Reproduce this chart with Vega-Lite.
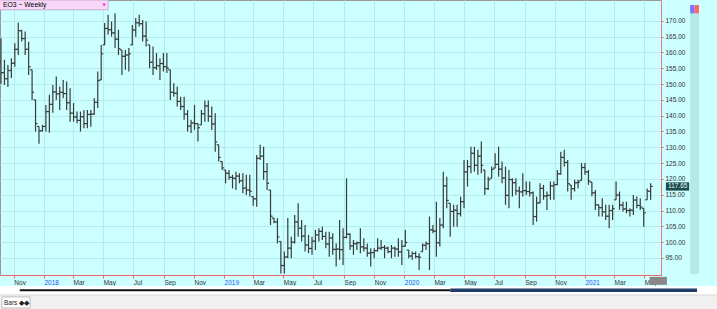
{
"$schema": "https://vega.github.io/schema/vega-lite/v6.json",
"width": 661, "height": 275,
"autosize": {"type": "none"},
"padding": {"left": 0, "top": 0, "right": 56, "bottom": 34},
"background": "#ccffff",
"config": {"view": {"fill": "#ccffff", "stroke": "#999999"}, "font": "Liberation Sans"},
"datasets": {"bars": [
{"d":"2017-10-06","o":157,"h":164.5,"l":150.0,"c":153.6},
{"d":"2017-10-13","o":153.6,"h":157.7,"l":149.7,"c":151.7},
{"d":"2017-10-20","o":151.7,"h":156.0,"l":149.1,"c":154.3},
{"d":"2017-10-27","o":154.3,"h":158.2,"l":151.9,"c":156.6},
{"d":"2017-11-03","o":156.6,"h":162.9,"l":155.5,"c":161.0},
{"d":"2017-11-10","o":161.0,"h":169.5,"l":159.2,"c":166.9},
{"d":"2017-11-17","o":166.9,"h":167.2,"l":163.5,"c":164.4},
{"d":"2017-11-24","o":164.4,"h":166.6,"l":159.2,"c":161.0},
{"d":"2017-12-01","o":161.0,"h":163.4,"l":152.9,"c":155.5},
{"d":"2017-12-08","o":154.5,"h":154.5,"l":145.0,"c":147.4},
{"d":"2017-12-15","o":145.0,"h":145.0,"l":135.0,"c":137.5},
{"d":"2017-12-22","o":136.6,"h":136.6,"l":131.1,"c":135.2},
{"d":"2017-12-29","o":135.2,"h":137.1,"l":135.0,"c":136.6},
{"d":"2018-01-05","o":136.6,"h":143.4,"l":135.0,"c":141.3},
{"d":"2018-01-12","o":141.3,"h":146.6,"l":134.6,"c":143.6},
{"d":"2018-01-19","o":143.6,"h":149.7,"l":140.9,"c":147.5},
{"d":"2018-01-26","o":147.5,"h":152.4,"l":145.0,"c":146.9},
{"d":"2018-02-02","o":146.9,"h":149.2,"l":141.8,"c":147.4},
{"d":"2018-02-09","o":147.4,"h":151.3,"l":145.5,"c":147.0},
{"d":"2018-02-16","o":147.0,"h":150.8,"l":141.8,"c":144.1},
{"d":"2018-02-23","o":144.1,"h":148.7,"l":138.1,"c":140.8},
{"d":"2018-03-02","o":140.8,"h":144.0,"l":138.1,"c":139.6},
{"d":"2018-03-09","o":139.6,"h":141.3,"l":137.6,"c":138.5},
{"d":"2018-03-16","o":138.5,"h":141.3,"l":135.0,"c":139.7},
{"d":"2018-03-23","o":139.7,"h":141.8,"l":136.0,"c":137.5},
{"d":"2018-03-30","o":137.5,"h":141.8,"l":136.0,"c":140.4},
{"d":"2018-04-06","o":140.4,"h":141.8,"l":136.5,"c":140.5},
{"d":"2018-04-13","o":140.5,"h":145.5,"l":140.3,"c":144.2},
{"d":"2018-04-20","o":144.2,"h":154.0,"l":142.4,"c":151.1},
{"d":"2018-04-27","o":151.3,"h":162.4,"l":151.3,"c":159.6},
{"d":"2018-05-04","o":162.4,"h":169.3,"l":162.4,"c":167.6},
{"d":"2018-05-11","o":167.6,"h":171.9,"l":165.6,"c":167.2},
{"d":"2018-05-18","o":167.2,"h":169.8,"l":165.0,"c":166.2},
{"d":"2018-05-25","o":166.2,"h":172.4,"l":161.4,"c":164.2},
{"d":"2018-06-01","o":164.2,"h":167.2,"l":159.2,"c":161.2},
{"d":"2018-06-08","o":160.8,"h":160.8,"l":152.9,"c":158.8},
{"d":"2018-06-15","o":158.8,"h":160.8,"l":154.5,"c":159.2},
{"d":"2018-06-22","o":159.2,"h":161.4,"l":154.0,"c":159.6},
{"d":"2018-06-29","o":162.4,"h":168.7,"l":162.4,"c":167.1},
{"d":"2018-07-06","o":167.1,"h":170.9,"l":165.0,"c":169.4},
{"d":"2018-07-13","o":169.4,"h":171.9,"l":168.2,"c":169.1},
{"d":"2018-07-20","o":169.1,"h":170.3,"l":163.5,"c":165.2},
{"d":"2018-07-27","o":165.2,"h":169.8,"l":161.9,"c":163.9},
{"d":"2018-08-03","o":162.4,"h":162.4,"l":155.0,"c":156.9},
{"d":"2018-08-10","o":156.9,"h":161.9,"l":152.9,"c":155.2},
{"d":"2018-08-17","o":155.2,"h":159.8,"l":154.5,"c":155.8},
{"d":"2018-08-24","o":155.8,"h":158.2,"l":151.3,"c":156.5},
{"d":"2018-08-31","o":156.5,"h":159.8,"l":154.0,"c":155.5},
{"d":"2018-09-07","o":155.5,"h":159.8,"l":153.5,"c":155.1},
{"d":"2018-09-14","o":154.5,"h":154.5,"l":145.0,"c":147.4},
{"d":"2018-09-21","o":147.4,"h":150.3,"l":146.0,"c":147.1},
{"d":"2018-09-28","o":147.1,"h":149.2,"l":142.9,"c":144.5},
{"d":"2018-10-05","o":144.5,"h":146.0,"l":141.8,"c":142.9},
{"d":"2018-10-12","o":142.9,"h":146.0,"l":138.7,"c":140.5},
{"d":"2018-10-19","o":140.5,"h":141.8,"l":135.0,"c":136.7},
{"d":"2018-10-26","o":136.7,"h":138.7,"l":134.5,"c":137.7},
{"d":"2018-11-02","o":137.7,"h":143.4,"l":135.5,"c":137.5},
{"d":"2018-11-09","o":137.5,"h":137.6,"l":131.8,"c":136.2},
{"d":"2018-11-16","o":137.1,"h":141.8,"l":137.1,"c":140.6},
{"d":"2018-11-23","o":140.6,"h":144.8,"l":138.1,"c":143.1},
{"d":"2018-11-30","o":143.1,"h":144.8,"l":138.1,"c":139.8},
{"d":"2018-12-07","o":139.8,"h":142.9,"l":135.5,"c":137.4},
{"d":"2018-12-14","o":137.4,"h":140.8,"l":128.6,"c":131.7},
{"d":"2018-12-21","o":130.8,"h":130.8,"l":125.5,"c":126.8},
{"d":"2018-12-28","o":125.5,"h":125.5,"l":122.8,"c":123.5},
{"d":"2019-01-04","o":122.8,"h":122.8,"l":118.6,"c":121.8},
{"d":"2019-01-11","o":121.8,"h":122.8,"l":119.7,"c":120.5},
{"d":"2019-01-18","o":120.5,"h":121.3,"l":117.0,"c":120.2},
{"d":"2019-01-25","o":120.2,"h":122.3,"l":116.5,"c":120.9},
{"d":"2019-02-01","o":120.9,"h":121.8,"l":118.6,"c":119.4},
{"d":"2019-02-08","o":119.4,"h":121.8,"l":115.5,"c":117.1},
{"d":"2019-02-15","o":117.1,"h":121.3,"l":114.9,"c":116.5},
{"d":"2019-02-22","o":116.5,"h":121.3,"l":114.4,"c":116.1},
{"d":"2019-03-01","o":114.4,"h":114.4,"l":111.5,"c":113.7},
{"d":"2019-03-08","o":113.7,"h":127.6,"l":111.2,"c":126.5},
{"d":"2019-03-15","o":126.5,"h":130.8,"l":126.0,"c":127.2},
{"d":"2019-03-22","o":127.2,"h":130.2,"l":119.7,"c":122.3},
{"d":"2019-03-29","o":122.3,"h":125.0,"l":116.5,"c":118.6},
{"d":"2019-04-05","o":116.5,"h":116.5,"l":105.4,"c":108.2},
{"d":"2019-04-12","o":107.6,"h":107.6,"l":106.0,"c":106.4},
{"d":"2019-04-19","o":106.4,"h":107.6,"l":99.6,"c":101.6},
{"d":"2019-04-26","o":100.2,"h":100.2,"l":90.1,"c":92.6},
{"d":"2019-05-03","o":92.6,"h":97.0,"l":90.1,"c":95.3},
{"d":"2019-05-10","o":95.3,"h":107.6,"l":94.9,"c":98.1},
{"d":"2019-05-17","o":98.1,"h":101.7,"l":94.9,"c":100.0},
{"d":"2019-05-24","o":100.0,"h":108.6,"l":99.6,"c":106.4},
{"d":"2019-05-31","o":106.4,"h":112.3,"l":101.7,"c":104.4},
{"d":"2019-06-07","o":104.4,"h":107.0,"l":100.2,"c":101.9},
{"d":"2019-06-14","o":101.9,"h":105.4,"l":97.0,"c":99.1},
{"d":"2019-06-21","o":99.1,"h":102.3,"l":96.5,"c":98.0},
{"d":"2019-06-28","o":98.0,"h":101.7,"l":96.0,"c":100.3},
{"d":"2019-07-05","o":100.3,"h":103.9,"l":97.5,"c":102.3},
{"d":"2019-07-12","o":102.3,"h":104.4,"l":100.2,"c":103.4},
{"d":"2019-07-19","o":103.4,"h":104.9,"l":100.7,"c":101.8},
{"d":"2019-07-26","o":101.8,"h":103.3,"l":98.1,"c":99.4},
{"d":"2019-08-02","o":99.4,"h":103.3,"l":95.4,"c":101.3},
{"d":"2019-08-09","o":101.3,"h":102.8,"l":96.0,"c":97.7},
{"d":"2019-08-16","o":97.7,"h":99.6,"l":92.3,"c":97.8},
{"d":"2019-08-23","o":97.8,"h":107.0,"l":94.4,"c":97.6},
{"d":"2019-08-30","o":97.6,"h":104.4,"l":92.8,"c":101.5},
{"d":"2019-09-06","o":101.5,"h":120.2,"l":101.2,"c":102.5},
{"d":"2019-09-13","o":102.5,"h":102.8,"l":97.5,"c":98.8},
{"d":"2019-09-20","o":98.8,"h":100.7,"l":96.0,"c":99.5},
{"d":"2019-09-27","o":99.5,"h":100.2,"l":97.5,"c":99.8},
{"d":"2019-10-04","o":99.8,"h":104.4,"l":96.5,"c":98.5},
{"d":"2019-10-11","o":98.5,"h":101.2,"l":97.0,"c":98.1},
{"d":"2019-10-18","o":98.1,"h":99.6,"l":95.4,"c":96.5},
{"d":"2019-10-25","o":96.5,"h":98.1,"l":92.3,"c":96.7},
{"d":"2019-11-01","o":96.7,"h":98.1,"l":94.9,"c":97.3},
{"d":"2019-11-08","o":97.3,"h":101.2,"l":97.0,"c":98.1},
{"d":"2019-11-15","o":98.1,"h":100.7,"l":97.5,"c":98.3},
{"d":"2019-11-22","o":98.3,"h":99.1,"l":94.9,"c":98.1},
{"d":"2019-11-29","o":98.1,"h":98.6,"l":96.5,"c":97.0},
{"d":"2019-12-06","o":97.0,"h":99.1,"l":94.9,"c":98.1},
{"d":"2019-12-13","o":98.1,"h":98.6,"l":95.4,"c":97.8},
{"d":"2019-12-20","o":97.8,"h":101.2,"l":95.4,"c":96.9},
{"d":"2019-12-27","o":96.9,"h":100.7,"l":92.8,"c":98.7},
{"d":"2020-01-03","o":98.7,"h":103.9,"l":98.6,"c":99.9},
{"d":"2020-01-10","o":97.5,"h":97.5,"l":94.9,"c":95.6},
{"d":"2020-01-17","o":95.6,"h":97.0,"l":94.4,"c":96.4},
{"d":"2020-01-24","o":96.4,"h":97.0,"l":94.9,"c":95.4},
{"d":"2020-01-31","o":95.4,"h":96.5,"l":91.2,"c":95.2},
{"d":"2020-02-07","o":97.0,"h":99.6,"l":97.0,"c":99.0},
{"d":"2020-02-14","o":99.0,"h":100.2,"l":97.5,"c":99.5},
{"d":"2020-02-21","o":99.5,"h":108.1,"l":91.2,"c":103.9},
{"d":"2020-02-28","o":103.9,"h":105.4,"l":102.8,"c":103.5},
{"d":"2020-03-06","o":103.5,"h":112.8,"l":95.4,"c":99.8},
{"d":"2020-03-13","o":99.8,"h":107.6,"l":98.6,"c":105.4},
{"d":"2020-03-20","o":105.4,"h":122.3,"l":104.4,"c":117.8},
{"d":"2020-03-27","o":117.8,"h":120.7,"l":110.7,"c":113.2},
{"d":"2020-04-03","o":112.3,"h":112.3,"l":101.7,"c":109.7},
{"d":"2020-04-10","o":109.7,"h":111.8,"l":104.9,"c":110.1},
{"d":"2020-04-17","o":110.1,"h":111.8,"l":104.9,"c":109.0},
{"d":"2020-04-24","o":109.0,"h":114.4,"l":108.1,"c":112.8},
{"d":"2020-05-01","o":112.8,"h":126.0,"l":110.7,"c":122.2},
{"d":"2020-05-08","o":122.2,"h":126.0,"l":117.6,"c":123.9},
{"d":"2020-05-15","o":123.9,"h":130.2,"l":121.8,"c":128.1},
{"d":"2020-05-22","o":128.1,"h":130.2,"l":122.3,"c":124.3},
{"d":"2020-05-29","o":124.3,"h":129.2,"l":121.3,"c":127.2},
{"d":"2020-06-05","o":127.2,"h":131.8,"l":121.8,"c":124.3},
{"d":"2020-06-12","o":122.8,"h":122.8,"l":114.9,"c":116.9},
{"d":"2020-06-19","o":116.9,"h":120.7,"l":116.5,"c":119.7},
{"d":"2020-06-26","o":120.2,"h":123.9,"l":120.2,"c":123.0},
{"d":"2020-07-03","o":123.4,"h":128.1,"l":123.4,"c":124.6},
{"d":"2020-07-10","o":124.6,"h":130.2,"l":120.7,"c":123.1},
{"d":"2020-07-17","o":123.1,"h":125.5,"l":118.6,"c":120.3},
{"d":"2020-07-24","o":120.3,"h":123.9,"l":111.8,"c":114.8},
{"d":"2020-07-31","o":114.8,"h":122.8,"l":110.7,"c":119.8},
{"d":"2020-08-07","o":119.8,"h":120.2,"l":114.4,"c":118.8},
{"d":"2020-08-14","o":118.8,"h":120.2,"l":114.9,"c":116.2},
{"d":"2020-08-21","o":116.2,"h":117.6,"l":110.7,"c":115.9},
{"d":"2020-08-28","o":115.9,"h":121.8,"l":114.4,"c":116.3},
{"d":"2020-09-04","o":116.3,"h":119.2,"l":114.9,"c":116.0},
{"d":"2020-09-11","o":116.0,"h":119.2,"l":114.4,"c":115.6},
{"d":"2020-09-18","o":115.6,"h":116.0,"l":105.4,"c":108.1},
{"d":"2020-09-25","o":108.1,"h":114.4,"l":106.5,"c":112.4},
{"d":"2020-10-02","o":112.4,"h":118.6,"l":112.3,"c":117.0},
{"d":"2020-10-09","o":117.0,"h":118.1,"l":113.4,"c":114.6},
{"d":"2020-10-16","o":114.6,"h":116.0,"l":110.2,"c":114.8},
{"d":"2020-10-23","o":114.8,"h":119.2,"l":113.4,"c":117.8},
{"d":"2020-10-30","o":117.8,"h":119.2,"l":113.4,"c":118.2},
{"d":"2020-11-06","o":118.2,"h":122.8,"l":118.0,"c":121.6},
{"d":"2020-11-13","o":121.6,"h":128.6,"l":121.3,"c":126.8},
{"d":"2020-11-20","o":126.8,"h":129.2,"l":123.9,"c":125.2},
{"d":"2020-11-27","o":125.2,"h":126.0,"l":116.0,"c":118.5},
{"d":"2020-12-04","o":118.1,"h":118.1,"l":113.4,"c":116.9},
{"d":"2020-12-11","o":116.9,"h":119.7,"l":116.0,"c":118.8},
{"d":"2020-12-18","o":118.8,"h":119.7,"l":117.0,"c":119.0},
{"d":"2020-12-25","o":119.5,"h":125.0,"l":119.5,"c":123.6},
{"d":"2021-01-01","o":123.6,"h":125.0,"l":121.3,"c":122.2},
{"d":"2021-01-08","o":122.2,"h":122.8,"l":118.1,"c":119.3},
{"d":"2021-01-15","o":119.0,"h":119.0,"l":114.5,"c":115.6},
{"d":"2021-01-22","o":115.6,"h":116.5,"l":110.2,"c":111.8},
{"d":"2021-01-29","o":111.8,"h":111.8,"l":108.1,"c":110.9},
{"d":"2021-02-05","o":110.9,"h":113.9,"l":108.1,"c":109.6},
{"d":"2021-02-12","o":109.6,"h":111.8,"l":107.0,"c":108.2},
{"d":"2021-02-19","o":108.2,"h":111.8,"l":104.4,"c":110.0},
{"d":"2021-02-26","o":110.0,"h":111.8,"l":107.0,"c":110.6},
{"d":"2021-03-05","o":113.4,"h":119.2,"l":113.4,"c":114.9},
{"d":"2021-03-12","o":114.9,"h":116.0,"l":110.2,"c":111.7},
{"d":"2021-03-19","o":111.7,"h":112.8,"l":109.7,"c":110.5},
{"d":"2021-03-26","o":110.5,"h":112.8,"l":109.1,"c":110.0},
{"d":"2021-04-02","o":110.0,"h":110.7,"l":108.1,"c":110.1},
{"d":"2021-04-09","o":110.1,"h":114.9,"l":108.6,"c":113.3},
{"d":"2021-04-16","o":113.3,"h":114.4,"l":110.7,"c":111.6},
{"d":"2021-04-23","o":111.6,"h":113.9,"l":110.2,"c":111.1},
{"d":"2021-04-30","o":110.7,"h":110.7,"l":104.9,"c":109.3},
{"d":"2021-05-07","o":113.4,"h":117.0,"l":113.4,"c":116.1},
{"d":"2021-05-14","o":116.1,"h":118.6,"l":113.4,"c":117.65}
]},
"data": {"name": "bars"},
"layer": [
{"mark": {"type": "rule", "color": "#3a3a3a", "strokeWidth": 1.2},
 "encoding": {
  "x": {"field": "d", "type": "temporal", "title": null,
   "scale": {"type": "utc", "domain": [{"year": 2017, "month": 10, "date": 4, "utc": true}, {"year": 2021, "month": 6, "date": 4, "utc": true}]},
   "axis": {"title": null, "orient": "bottom", "tickCount": {"interval": "month", "step": 2},
    "labelExpr": "utcmonth(datum.value) == 0 ? utcFormat(datum.value, '%Y') : utcFormat(datum.value, '%b')",
    "labelColor": {"condition": {"test": "utcmonth(datum.value) == 0", "value": "#3355ee"}, "value": "#333333"},
    "labelAlign": "left", "labelFontSize": 6.5, "labelFont": "Liberation Sans", "labelPadding": 1,
    "labelFlush": false, "labelOverlap": false,
    "domainColor": "#ee6666", "tickColor": "#ee6666", "tickSize": 3,
    "grid": true, "gridColor": "#b3ecec"}},
  "y": {"field": "l", "type": "quantitative", "title": null,
   "scale": {"domain": [89.6, 176.6], "nice": false, "zero": false},
   "axis": {"title": null, "orient": "right", "tickCount": 40, "values": [95,100,105,110,115,120,125,130,135,140,145,150,155,160,165,170],
    "format": ".2f", "labelFontSize": 6.5, "labelFont": "Liberation Sans", "labelColor": "#333333",
    "labelPadding": 2, "tickSize": 2, "tickColor": "#ee5555", "domainColor": "#ee7777",
    "grid": true, "gridColor": "#b3ecec", "labelFlush": false, "labelOverlap": false}},
  "y2": {"field": "h"}
 }},
{"mark": {"type": "tick", "orient": "horizontal", "size": 2, "thickness": 1.2, "xOffset": -1, "color": "#3a3a3a", "opacity": 1},
 "encoding": {"x": {"field": "d", "type": "temporal", "title": null}, "y": {"field": "o", "type": "quantitative", "title": null}}},
{"mark": {"type": "tick", "orient": "horizontal", "size": 2, "thickness": 1.2, "xOffset": 1, "color": "#3a3a3a", "opacity": 1},
 "encoding": {"x": {"field": "d", "type": "temporal", "title": null}, "y": {"field": "c", "type": "quantitative", "title": null}}},
{"data": {"values": [{}]}, "mark": {"type": "rect", "fill": "#f8d8f8", "stroke": "#c8a0c8", "strokeWidth": 0.8},
 "encoding": {"x": {"datum": {"year": 2017, "month": 10, "date": 3, "utc": true}, "type": "temporal", "title": null},
  "x2": {"datum": {"year": 2018, "month": 5, "date": 11, "utc": true}},
  "y": {"datum": 176.6, "type": "quantitative", "title": null}, "y2": {"datum": 173.5}}},
{"data": {"values": [{}]}, "mark": {"type": "text", "align": "left", "baseline": "middle", "fontSize": 6.8, "font": "Liberation Sans", "color": "#000000"},
 "encoding": {"x": {"datum": {"year": 2017, "month": 10, "date": 10, "utc": true}, "type": "temporal", "title": null},
  "y": {"datum": 175.05, "type": "quantitative", "title": null}, "text": {"value": "EO3 ~ Weekly"}}},
{"data": {"values": [{}]}, "mark": {"type": "point", "shape": "triangle-down", "size": 12, "filled": true, "fill": "#dd33dd", "opacity": 1},
 "encoding": {"x": {"datum": {"year": 2018, "month": 5, "date": 3, "utc": true}, "type": "temporal", "title": null},
  "y": {"datum": 175.05, "type": "quantitative", "title": null}}},
{"data": {"values": [{}]}, "mark": {"type": "rect", "fill": "#b6e8e8"},
 "encoding": {"x": {"datum": {"year": 2021, "month": 8, "date": 2, "utc": true}, "type": "temporal", "title": null},
  "x2": {"datum": {"year": 2021, "month": 8, "date": 20, "utc": true}},
  "y": {"datum": 172.5, "type": "quantitative", "title": null}, "y2": {"datum": 89.9}}},
{"data": {"values": [{}]}, "mark": {"type": "rect", "fill": "#7777ff"},
 "encoding": {"x": {"datum": {"year": 2021, "month": 8, "date": 2, "utc": true}, "type": "temporal", "title": null},
  "x2": {"datum": {"year": 2021, "month": 8, "date": 11, "utc": true}},
  "y": {"datum": 175.0, "type": "quantitative", "title": null}, "y2": {"datum": 172.4}}},
{"data": {"values": [{}]}, "mark": {"type": "rect", "fill": "#ff6666"},
 "encoding": {"x": {"datum": {"year": 2021, "month": 8, "date": 11, "utc": true}, "type": "temporal", "title": null},
  "x2": {"datum": {"year": 2021, "month": 8, "date": 20, "utc": true}},
  "y": {"datum": 175.0, "type": "quantitative", "title": null}, "y2": {"datum": 172.4}}},
{"data": {"values": [{}]}, "mark": {"type": "rect", "fill": "#1d4b4b"},
 "encoding": {"x": {"datum": {"year": 2021, "month": 6, "date": 14, "utc": true}, "type": "temporal", "title": null},
  "x2": {"datum": {"year": 2021, "month": 7, "date": 31, "utc": true}},
  "y": {"datum": 118.9, "type": "quantitative", "title": null}, "y2": {"datum": 116.3}}},
{"data": {"values": [{}]}, "mark": {"type": "text", "align": "center", "baseline": "middle", "fontSize": 6.5, "font": "Liberation Sans", "color": "#e6ffff"},
 "encoding": {"x": {"datum": {"year": 2021, "month": 7, "date": 8, "utc": true}, "type": "temporal", "title": null},
  "y": {"datum": 117.6, "type": "quantitative", "title": null}, "text": {"value": "117.65"}}},
{"data": {"values": [{}]}, "mark": {"type": "rect", "fill": "#888888"},
 "encoding": {"x": {"datum": {"year": 2021, "month": 5, "date": 12, "utc": true}, "type": "temporal", "title": null},
  "x2": {"datum": {"year": 2021, "month": 6, "date": 16, "utc": true}},
  "y": {"datum": 89.0, "type": "quantitative", "title": null}, "y2": {"datum": 86.5}}},
{"data": {"values": [{}]}, "mark": {"type": "rect", "fill": "#ffffff"},
 "encoding": {"x": {"datum": {"year": 2017, "month": 9, "date": 20, "utc": true}, "type": "temporal", "title": null},
  "x2": {"datum": {"year": 2021, "month": 10, "date": 5, "utc": true}},
  "y": {"datum": 86.14, "type": "quantitative", "title": null}, "y2": {"datum": 83.29}}},
{"data": {"values": [{}]}, "mark": {"type": "rect", "fill": "#f0f0f0", "stroke": "#d0d0d0", "strokeWidth": 0.8},
 "encoding": {"x": {"datum": {"year": 2017, "month": 9, "date": 20, "utc": true}, "type": "temporal", "title": null},
  "x2": {"datum": {"year": 2021, "month": 10, "date": 5, "utc": true}},
  "y": {"datum": 83.29, "type": "quantitative", "title": null}, "y2": {"datum": 78.3}}},
{"data": {"values": [{}]}, "mark": {"type": "rule", "color": "#111111", "strokeWidth": 2},
 "encoding": {"x": {"datum": {"year": 2017, "month": 11, "date": 13, "utc": true}, "type": "temporal", "title": null},
  "x2": {"datum": {"year": 2020, "month": 4, "date": 3, "utc": true}},
  "y": {"datum": 84.8, "type": "quantitative", "title": null}}},
{"data": {"values": [{}]}, "mark": {"type": "rule", "color": "#1f3d66", "strokeWidth": 3.5},
 "encoding": {"x": {"datum": {"year": 2020, "month": 4, "date": 3, "utc": true}, "type": "temporal", "title": null},
  "x2": {"datum": {"year": 2021, "month": 8, "date": 16, "utc": true}},
  "y": {"datum": 84.8, "type": "quantitative", "title": null}}},
{"data": {"values": [{}]}, "mark": {"type": "rect", "fill": "#ffffff", "stroke": "#b0b0b0", "strokeWidth": 0.8},
 "encoding": {"x": {"datum": {"year": 2017, "month": 10, "date": 8, "utc": true}, "type": "temporal", "title": null},
  "x2": {"datum": {"year": 2017, "month": 12, "date": 4, "utc": true}},
  "y": {"datum": 82.66, "type": "quantitative", "title": null}, "y2": {"datum": 79.18}}},
{"data": {"values": [{}]}, "mark": {"type": "text", "align": "left", "baseline": "middle", "fontSize": 6.5, "font": "Liberation Sans", "color": "#222222"},
 "encoding": {"x": {"datum": {"year": 2017, "month": 10, "date": 12, "utc": true}, "type": "temporal", "title": null},
  "y": {"datum": 80.9, "type": "quantitative", "title": null}, "text": {"value": "Bars ◆◆"}}}
]
}
